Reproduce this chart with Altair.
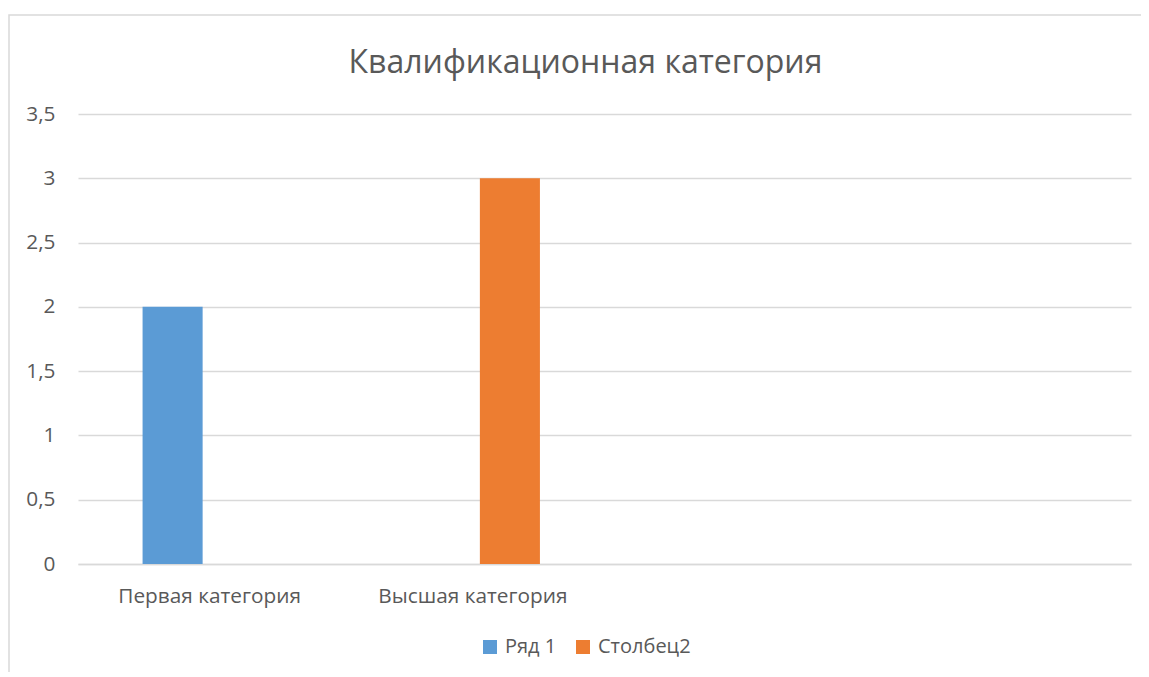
import altair as alt
import pandas as pd

categories = ["Первая категория", "Высшая категория", " ", "  "]
series_names = ["Ряд 1", "Столбец2"]
series_1 = [2, None, None, None]
series_2 = [None, 3, None, None]
colors = ["#5B9BD5", "#ED7D31"]
y_ticks = [0, 0.5, 1, 1.5, 2, 2.5, 3, 3.5]
title_text = "Квалификационная категория"

rows = []
for name, vals in zip(series_names, [series_1, series_2]):
    for c, v in zip(categories, vals):
        if v is not None:
            rows.append({"cat": c, "series": name, "value": v})
df = pd.DataFrame(rows)

FONT = "Open Sans"
GREY = "#595959"
FS = 20.8

bars = alt.Chart(df).mark_bar().encode(
    x=alt.X("cat:N", sort=categories,
            scale=alt.Scale(domain=categories, paddingInner=0, paddingOuter=0),
            axis=alt.Axis(title=None, labelAngle=0, ticks=False, domain=True,
                          domainColor="#D9D9D9", domainWidth=1.5,
                          labelPadding=22, labelFontSize=FS, labelColor=GREY,
                          labelFont=FONT, labelLimit=400, grid=False)),
    xOffset=alt.XOffset("series:N",
                        scale=alt.Scale(domain=series_names, paddingInner=0.189, paddingOuter=0.872)),
    y=alt.Y("value:Q",
            scale=alt.Scale(domain=[0, 3.5], nice=False),
            axis=alt.Axis(title=None, values=y_ticks, ticks=False, domain=False,
                          labelExpr="replace(toString(datum.value), '.', ',')",
                          labelPadding=23, labelFontSize=FS, labelColor=GREY,
                          labelFont=FONT, gridColor="#D9D9D9", gridWidth=1.5)),
    color=alt.Color("series:N",
                    scale=alt.Scale(domain=series_names, range=colors),
                    legend=alt.Legend(title=None, orient="none", direction="horizontal",
                                      legendX=402, legendY=523,
                                      symbolType="square", symbolSize=196,
                                      symbolStrokeWidth=0, labelFontSize=20,
                                      labelColor=GREY, labelFont=FONT, labelLimit=300,
                                      columnPadding=16, labelOffset=5)),
)

frame = alt.Chart(alt.Data(values=[{}])).mark_rect(
    fill=None, stroke="#D9D9D9", strokeWidth=1.5
).encode(
    x=alt.value(-69), x2=alt.value(1085), y=alt.value(-99), y2=alt.value(580)
)

chart = alt.layer(frame, bars).properties(
    width=1053, height=450,
    title=alt.Title(title_text, fontSize=32, font=FONT, color=GREY,
                    fontWeight="normal", anchor="middle", frame="group",
                    dx=-19, offset=-66),
    autosize=alt.AutoSizeParams(type="none"),
    padding={"left": 70, "top": 106, "right": 10, "bottom": 108},
    background="white",
).configure_view(stroke=None)

chart.save("out.html", embed_options={"renderer": "svg", "actions": False})
